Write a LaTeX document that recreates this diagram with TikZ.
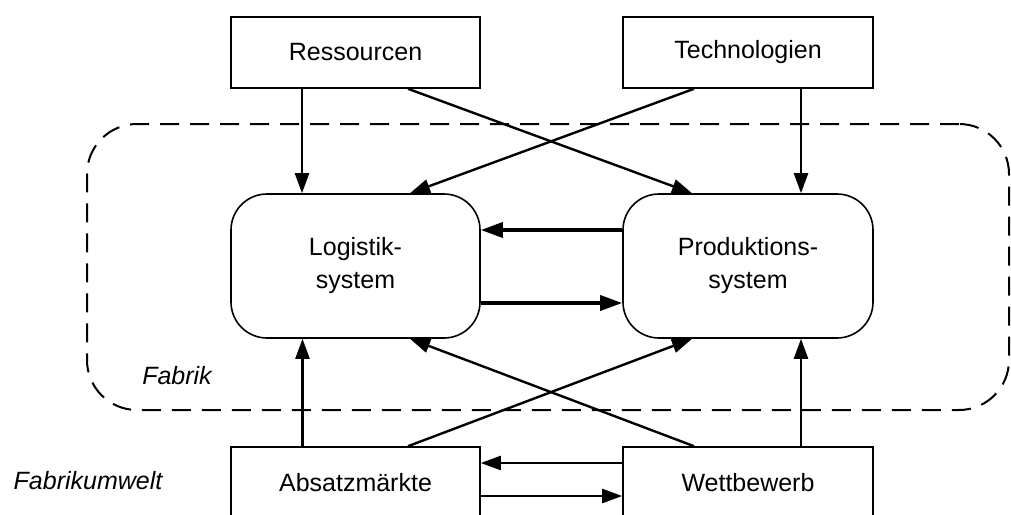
\documentclass[tikz,border=0pt]{standalone}
\usepackage{fontspec}
\setmainfont{Liberation Sans}
\usetikzlibrary{arrows.meta}
\begin{document}
\begin{tikzpicture}[x=1pt,y=1pt,
  box/.style={draw,line width=1.6pt,minimum width=249pt,minimum height=71pt,inner sep=0pt,font=\fontsize{25}{33}\selectfont,align=center},
  sysbox/.style={box,minimum height=144pt,rounded corners=36pt},
  arr/.style={line width=2.4pt,-{Triangle[length=20pt,width=14pt]}},
  thickarr/.style={line width=3.6pt,-{Triangle[length=22pt,width=15pt]}},
  lbl/.style={font=\fontsize{25}{30}\selectfont\itshape,inner sep=0pt}]
\useasboundingbox (0,0) rectangle (1011,-514);
\clip (0,0) rectangle (1011,-514);
\node[box] (res) at (355.5,-52.5) {Ressourcen};
\node[box,minimum width=250pt] (tech) at (748,-52.5) {Technologien};
\node[sysbox] (log) at (355.5,-266) {Logistik-\\system};
\node[sysbox,minimum width=250pt] (prod) at (748,-266) {Produktions-\\system};
\node[box] (abs) at (355.5,-482.5) {Absatzmärkte};
\node[box,minimum width=250pt] (wett) at (748,-482.5) {Wettbewerb};
\node[draw,dashed,dash pattern=on 19pt off 11pt,line width=2pt,rounded corners=50pt,
  minimum width=922pt,minimum height=286pt,inner sep=0pt] (fabrik) at (548,-267) {};
\node[lbl] (fl) at (177,-376) {Fabrik};
\node[lbl] (ful) at (88,-481) {Fabrikumwelt};
% top arrows
\draw[arr] ([xshift=-53.5pt]res.south) -- ([xshift=-53.5pt]log.north);
\draw[arr] ([xshift=52.5pt]res.south) -- ([xshift=-56pt]prod.north);
\draw[arr] ([xshift=-54pt]tech.south) -- ([xshift=54.5pt]log.north);
\draw[arr] ([xshift=53pt]tech.south) -- ([xshift=53pt]prod.north);
% between systems
\draw[thickarr] ([yshift=36pt]prod.west) -- ([yshift=36pt]log.east);
\draw[thickarr] ([yshift=-37pt]log.east) -- ([yshift=-37pt]prod.west);
% bottom arrows
\draw[arr] ([xshift=-53pt]abs.north) -- ([xshift=-53pt]log.south);
\draw[arr] ([xshift=52.5pt]abs.north) -- ([xshift=-56pt]prod.south);
\draw[arr] ([xshift=-54pt]wett.north) -- ([xshift=54.5pt]log.south);
\draw[arr] ([xshift=53pt]wett.north) -- ([xshift=53pt]prod.south);
\draw[arr] ([yshift=19.5pt]wett.west) -- ([yshift=19.5pt]abs.east);
\draw[arr] ([yshift=-13.5pt]abs.east) -- ([yshift=-13.5pt]wett.west);
\end{tikzpicture}
\end{document}
